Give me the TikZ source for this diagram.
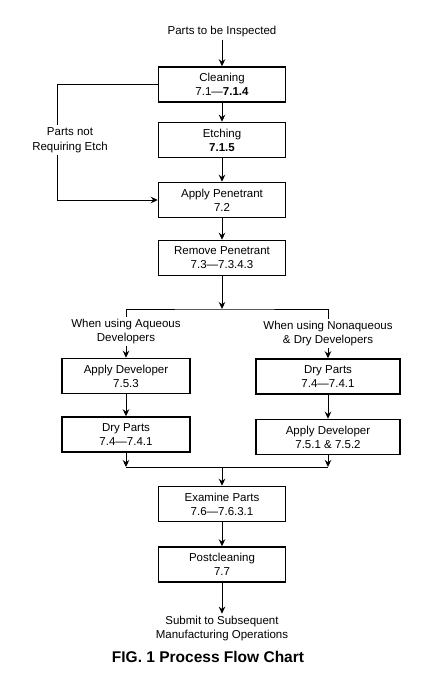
\documentclass[tikz,border=0pt]{standalone}
\usepackage{fontspec}
\setmainfont{Liberation Sans}
\usetikzlibrary{arrows.meta}

\begin{document}
\begin{tikzpicture}[x=1pt,y=-1pt,
box/.style={draw,line width=1.5pt,minimum width=127pt,minimum height=35pt,align=center,inner sep=0pt,font=\fontsize{11.5}{14}\selectfont},
txt/.style={align=center,inner sep=2pt,font=\fontsize{11.5}{14.5}\selectfont},
arr/.style={-{Stealth[length=7pt,width=6.5pt]},line width=0.9pt},
lin/.style={line width=0.9pt}]
\useasboundingbox (0,0) rectangle (447,695);

\node[txt] (start) at (222,32) {Parts to be Inspected};
\node[box] (clean) at (222,84.5) {Cleaning\\7.1—\textbf{7.1.4}};
\node[box] (etch) at (222,140) {Etching\\\textbf{7.1.5}};
\node[box] (pen) at (222,200) {Apply Penetrant\\7.2};
\node[box] (remove) at (222,258) {Remove Penetrant\\7.3—7.3.4.3};
\node[txt] (skip) at (70,140) {Parts not\\Requiring Etch};

\node[txt] (aq) at (126,331.5) {When using Aqueous\\Developers};
\node[txt] (nonaq) at (328,333.5) {When using Nonaqueous\\\& Dry Developers};
\node[box,minimum width=128pt] (appdevL) at (126,376) {Apply Developer\\7.5.3};
\node[box,minimum width=128pt] (dryL) at (126,434.5) {Dry Parts\\7.4—7.4.1};
\node[box,minimum width=144pt] (dryR) at (328,376.5) {Dry Parts\\7.4—7.4.1};
\node[box,minimum width=144pt] (appdevR) at (328,437) {Apply Developer\\7.5.1 \& 7.5.2};

\node[box] (exam) at (222,504) {Examine Parts\\7.6—7.6.3.1};
\node[box] (post) at (222,564.5) {Postcleaning\\7.7};
\node[txt] (submit) at (222,628.5) {Submit to Subsequent\\Manufacturing Operations};
\node[font=\bfseries\fontsize{15.5}{18}\selectfont] (cap) at (208,657) {FIG. 1 Process Flow Chart};

\coordinate (byp) at (57,0);
\coordinate (split) at (222,309);
\coordinate (merge) at (222,467);

\draw[arr] (start) -- (clean);
\draw[arr] (clean) -- (etch);
\draw[arr] (etch) -- (pen);
\draw[arr] (pen) -- (remove);
\draw[lin] (clean.west) -| (byp |- skip.north);
\draw[arr] (byp |- skip.south) |- (pen.west);

\draw[arr] (remove) -- (split);
\draw[lin] (aq.north) |- (split) -| (nonaq.north);
\draw[arr] (aq) -- (appdevL);
\draw[arr] (nonaq) -- (dryR);
\draw[arr] (appdevL) -- (dryL);
\draw[arr] (dryR) -- (appdevR);
\draw[arr] (dryL) -- (dryL |- merge);
\draw[arr] (appdevR) -- (appdevR |- merge);
\draw[lin] (dryL |- merge) -- (appdevR |- merge);

\draw[arr] (merge) -- (exam);
\draw[arr] (exam) -- (post);
\draw[arr] (post) -- (submit);

\end{tikzpicture}
\end{document}
